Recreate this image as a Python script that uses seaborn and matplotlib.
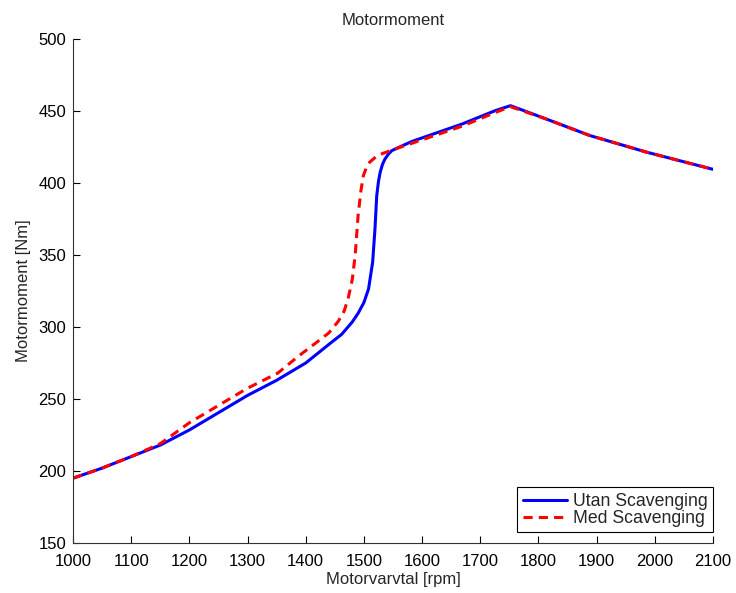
import matplotlib
matplotlib.use("Agg")
import matplotlib.pyplot as plt
import seaborn as sns
import pandas as pd

# Data
rpm_utan = [1000, 1050, 1100, 1150, 1200, 1250, 1300, 1350, 1400, 1440, 1462, 1480,
            1490, 1500, 1508, 1515, 1519, 1522, 1525, 1528, 1532, 1536, 1542, 1548,
            1582, 1669, 1726, 1752, 1813, 1888, 1986, 2100]
tq_utan = [195, 202, 210, 218, 228.5, 240.5, 252.5, 263, 275, 288, 295, 303.5,
           309.5, 317, 326.5, 345, 368, 391, 401, 407.5, 413, 416.5, 420, 422.5,
           428.8, 441, 450.3, 453.7, 444.5, 433, 421.4, 409.5]

rpm_med = [1000, 1050, 1100, 1150, 1200, 1254, 1300, 1352, 1387, 1416, 1440, 1456,
           1466, 1473, 1480, 1485, 1490, 1495, 1499, 1504, 1510, 1520, 1531, 1554,
           1582, 1669, 1726, 1752, 1813, 1888, 1986, 2100]
tq_med = [195, 202, 210, 219, 233.5, 246.5, 257.5, 268, 279.6, 288.5, 296, 304,
          311, 320, 333, 349.8, 377.5, 395, 405, 410.5, 414.5, 418, 420.3, 423.7,
          427.5, 439.5, 449, 453, 444.5, 433, 421.4, 409.5]

labels = ["Utan Scavenging", "Med Scavenging"]
xticks = list(range(1000, 2101, 100))
yticks = list(range(150, 501, 50))

sns.set_theme(style="ticks")
plt.rcParams['font.family'] = ['Liberation Sans', 'DejaVu Sans']
plt.rcParams['xtick.direction'] = 'in'
plt.rcParams['ytick.direction'] = 'in'

W, H = 736, 593
fig = plt.figure(figsize=(W / 100, H / 100), dpi=100)
ax = fig.add_axes([73 / W, (H - 543) / H, (713 - 73) / W, (543 - 39) / H])

df_u = pd.DataFrame({"rpm": rpm_utan, "tq": tq_utan})
df_m = pd.DataFrame({"rpm": rpm_med, "tq": tq_med})

sns.lineplot(data=df_u, x="rpm", y="tq", ax=ax, color="#0000ff", lw=2.2,
             estimator=None, sort=False, label=labels[0])
sns.lineplot(data=df_m, x="rpm", y="tq", ax=ax, color="#ff0000", lw=2.2,
             estimator=None, sort=False, label=labels[1], dashes=False)
ax.lines[1].set_dashes((3, 2))

ax.set_xlim(1000, 2100)
ax.set_ylim(150, 500)
ax.set_xticks(xticks)
ax.set_yticks(yticks)
ax.tick_params(labelsize=12, length=5, width=0.8, colors='black')
ax.tick_params(axis='x', pad=8)
ax.tick_params(axis='y', pad=5)
for s in ['top', 'right']:
    ax.spines[s].set_visible(False)
for s in ['left', 'bottom']:
    ax.spines[s].set_color('0.2')
    ax.spines[s].set_linewidth(0.8)

ax.set_title("Motormoment", fontsize=12, pad=10)
ax.set_xlabel("Motorvarvtal [rpm]", fontsize=12, labelpad=2)
ax.set_ylabel("Motormoment [Nm]", fontsize=12, labelpad=5)

leg = ax.legend(loc="lower right", bbox_to_anchor=(1.0, 11 / 504), fontsize=12.7,
                frameon=True, fancybox=False, framealpha=1, edgecolor='black',
                borderpad=0.3, handlelength=2.5, handletextpad=0.35,
                labelspacing=0.0, borderaxespad=0)
leg.get_frame().set_linewidth(0.8)

fig.savefig("out.png", dpi=100)
